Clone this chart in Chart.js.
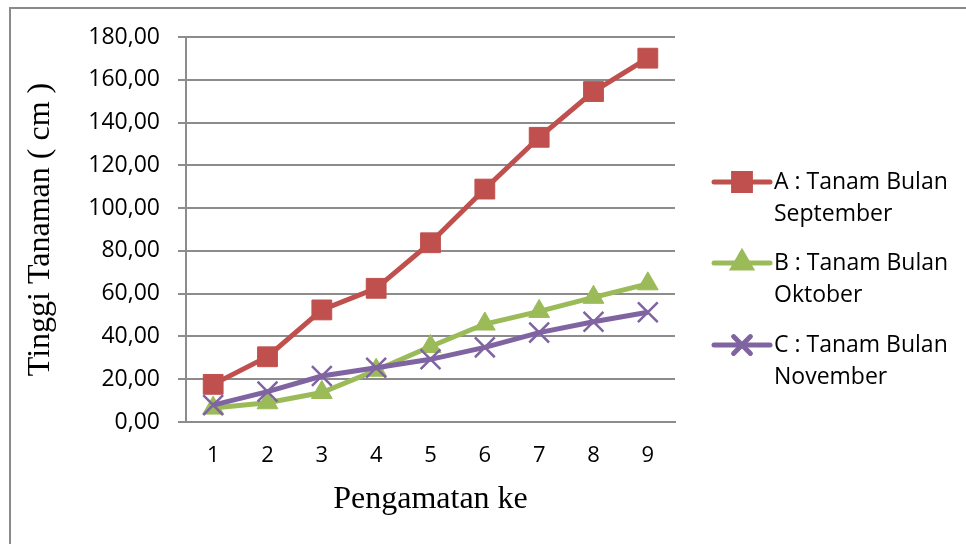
<!DOCTYPE html>
<html>
<head>
<meta charset="utf-8">
<script src="https://cdn.jsdelivr.net/npm/chart.js@4.4.1/dist/chart.umd.min.js"></script>
<style>
  html, body { margin: 0; padding: 0; background: #ffffff; }
  #wrap { position: relative; width: 966px; height: 544px; }
</style>
</head>
<body>
<div id="wrap"><canvas id="chart" width="966" height="544"></canvas></div>
<script>
// Observation number (x axis)
const categories = ['1', '2', '3', '4', '5', '6', '7', '8', '9'];

// Plant height (cm) per planting month
const seriesA = [17.6, 30.5, 52.4, 62.5, 83.8, 108.9, 133.1, 154.5, 170.1];
const seriesB = [6.5, 9.0, 13.8, 24.2, 35.3, 45.8, 51.7, 58.3, 64.6];
const seriesC = [7.9, 14.2, 21.5, 25.4, 29.3, 34.9, 41.8, 46.9, 51.3];

// Legend text, two lines per series
const seriesNames = [
  ['A : Tanam Bulan', 'September'],
  ['B : Tanam Bulan', 'Oktober'],
  ['C : Tanam Bulan', 'November']
];

// Y axis tick values
const yTicks = [0, 20, 40, 60, 80, 100, 120, 140, 160, 180];

const labelFont = "'Open Sans', 'Noto Sans', sans-serif";
const titleFont = "'Liberation Serif', 'DejaVu Serif', serif";
const gridColor = '#8c8c8c';

const formatComma = v => v.toFixed(2).replace('.', ',');

// Frame around the chart and the right-hand legend
const decorPlugin = {
  id: 'decor',
  beforeDraw(chart) {
    const ctx = chart.ctx;
    ctx.save();
    ctx.fillStyle = '#ffffff';
    ctx.fillRect(0, 0, chart.width, chart.height);
    ctx.strokeStyle = '#8a8a8a';
    ctx.lineWidth = 2;
    ctx.beginPath();
    ctx.moveTo(10, chart.height);
    ctx.lineTo(10, 8);
    ctx.lineTo(chart.width, 8);
    ctx.stroke();
    ctx.restore();
  },
  afterDraw(chart) {
    const ctx = chart.ctx;
    const rows = [182, 263, 345];
    const lineX0 = 714, lineX1 = 770, textX = 774;
    ctx.save();
    chart.data.datasets.forEach((ds, i) => {
      const y = rows[i];
      ctx.strokeStyle = ds.borderColor;
      ctx.lineWidth = ds.borderWidth;
      ctx.lineCap = 'round';
      ctx.beginPath();
      ctx.moveTo(lineX0, y);
      ctx.lineTo(lineX1, y);
      ctx.stroke();
      Chart.helpers.drawPoint(ctx, {
        pointStyle: ds.pointStyle,
        radius: ds.pointRadius * 0.85,
        rotation: 0,
        borderWidth: ds.pointBorderWidth
      }, (lineX0 + lineX1) / 2, y);
      ctx.fillStyle = ds.pointBackgroundColor;
      ctx.strokeStyle = ds.pointBorderColor;
      ctx.lineWidth = ds.pointBorderWidth;
      if (ds.pointStyle !== 'crossRot') ctx.fill();
      ctx.stroke();
      ctx.fillStyle = '#000000';
      ctx.font = '23px ' + labelFont;
      ctx.textAlign = 'left';
      ctx.textBaseline = 'middle';
      seriesNames[i].forEach((line, k) => ctx.fillText(line, textX, y + k * 32));
    });
    ctx.restore();
  }
};

function makeSeries(name, data, color, style, radius, order) {
  return {
    label: name.join(' '),
    data: data,
    borderColor: color,
    backgroundColor: color,
    borderWidth: 5,
    pointStyle: style,
    pointRadius: radius,
    pointHoverRadius: radius,
    pointBackgroundColor: color,
    pointBorderColor: color,
    pointBorderWidth: style === 'crossRot' ? 2.5 : 1,
    tension: 0,
    fill: false,
    order: order
  };
}

new Chart(document.getElementById('chart'), {
  type: 'line',
  data: {
    labels: categories,
    datasets: [
      makeSeries(seriesNames[0], seriesA, '#C0504D', 'rect', 14, 2),
      makeSeries(seriesNames[1], seriesB, '#9BBB59', 'triangle', 12, 1),
      makeSeries(seriesNames[2], seriesC, '#8064A2', 'crossRot', 14, 0)
    ]
  },
  options: {
    responsive: false,
    animation: false,
    events: [],
    layout: { padding: { left: 0, right: 291, top: 37, bottom: 0 } },
    plugins: {
      legend: { display: false },
      tooltip: { enabled: false }
    },
    scales: {
      x: {
        offset: true,
        grid: { display: true, drawOnChartArea: false, drawTicks: false },
        border: { display: true, color: gridColor, width: 2 },
        ticks: {
          color: '#000000',
          font: { family: labelFont, size: 22 },
          padding: 21,
          maxRotation: 0
        },
        title: {
          display: true,
          text: 'Pengamatan ke',
          color: '#000000',
          font: { family: titleFont, size: 32 },
          padding: { top: 0, bottom: 25 }
        },
        afterFit(scale) { scale.height = 122; }
      },
      y: {
        min: 0,
        max: 180,
        afterBuildTicks(scale) { scale.ticks = yTicks.map(v => ({ value: v })); },
        grid: { color: gridColor, lineWidth: 2, tickLength: 8, drawTicks: true },
        border: { display: true, color: gridColor, width: 2 },
        ticks: {
          color: '#000000',
          font: { family: labelFont, size: 23 },
          padding: 18,
          callback: v => formatComma(v)
        },
        title: {
          display: true,
          text: 'Tinggi Tanaman ( cm )',
          color: '#000000',
          font: { family: titleFont, size: 32 },
          padding: { top: 21, bottom: 0 }
        },
        afterFit(scale) { scale.width = 186; }
      }
    }
  },
  plugins: [decorPlugin]
});
</script>
</body>
</html>
